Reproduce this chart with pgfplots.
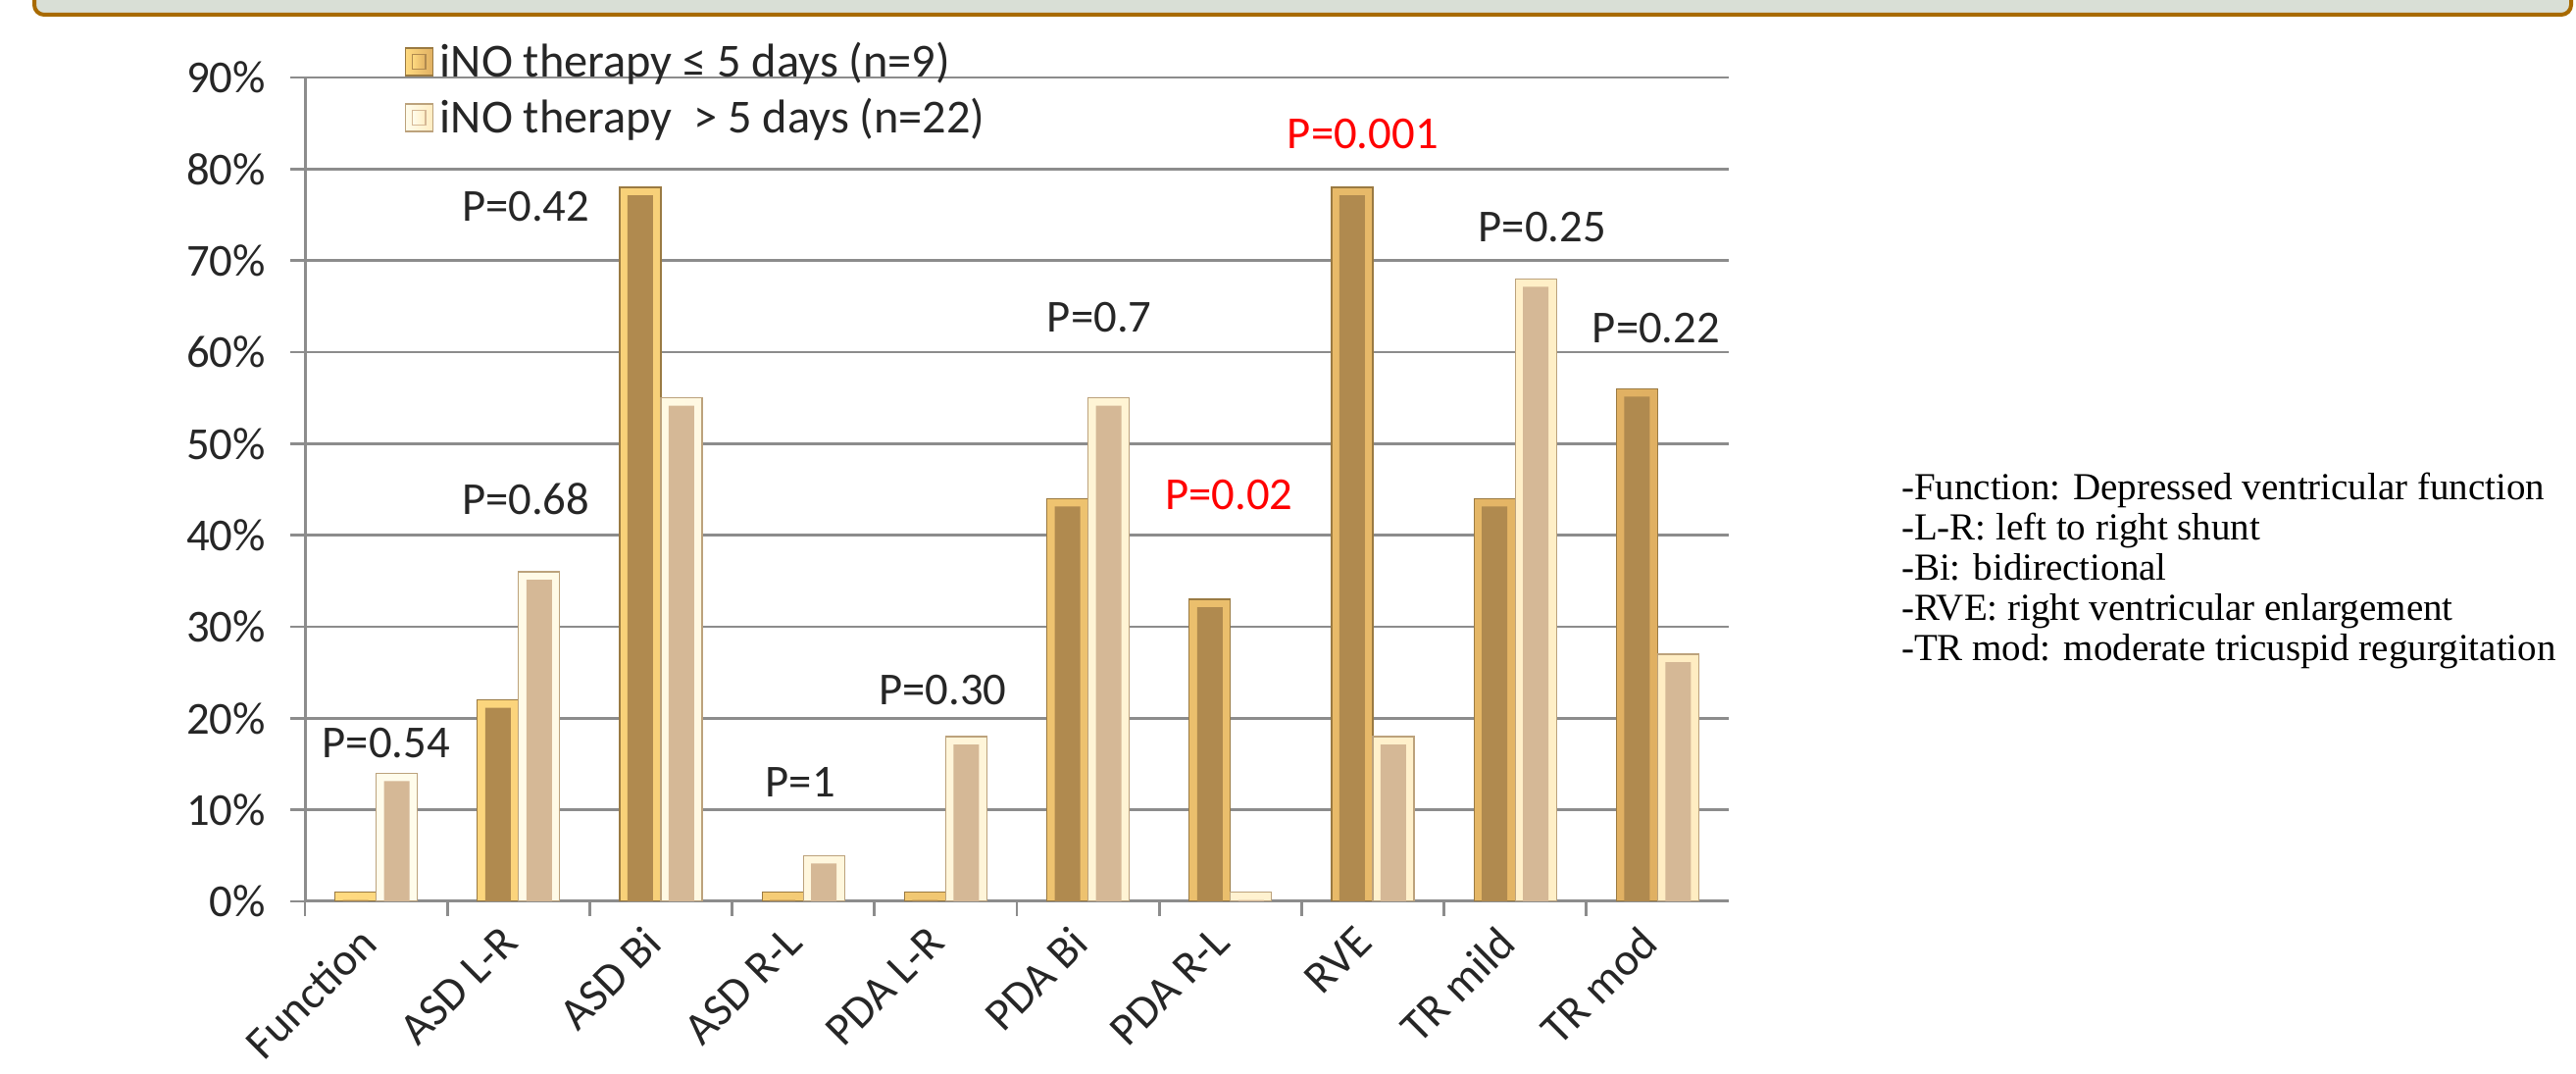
\documentclass[border=0pt]{standalone}
\usepackage{fontspec}
\setmainfont{Carlito}
\newfontfamily\timesfont{Liberation Serif}
\usepackage{pgfplots}
\usepackage{pgfplotstable}
\pgfplotsset{compat=1.18}
\definecolor{txt}{HTML}{262626}
\definecolor{gridc}{HTML}{8C8C8C}
\definecolor{dOutL}{HTML}{FFDA80}
\definecolor{dOutR}{HTML}{E0B062}
\definecolor{dIn}{HTML}{B08A4F}
\definecolor{dEdge}{HTML}{9A7A42}
\definecolor{lOutL}{HTML}{FFFCEC}
\definecolor{lOutR}{HTML}{FFEDC2}
\definecolor{lIn}{HTML}{D5B896}
\definecolor{lEdge}{HTML}{BCA27C}
\definecolor{bannerfill}{HTML}{D9DFD6}
\definecolor{bannerdraw}{HTML}{A86A00}

\pgfplotstableread{
x short long
0 1 14
1 22 36
2 78 55
3 1 5
4 1 18
5 44 55
6 33 1
7 78 18
8 44 68
9 56 27
}\outer

\pgfplotstableread{
x short long
0 0.14 13.14
1 21.14 35.14
2 77.14 54.14
3 0.14 4.14
4 0.14 17.14
5 43.14 54.14
6 32.14 0.14
7 77.14 17.14
8 43.14 67.14
9 55.14 26.14
}\inner

\begin{document}
\begin{tikzpicture}
\path[use as bounding box] (0,0) rectangle (788.1pt,328.5pt);
\begin{scope}
\clip (0,0) rectangle (788.1pt,328.5pt);
\draw[bannerdraw, line width=1.2pt, fill=bannerfill, rounded corners=3pt] (10.5pt,324pt) rectangle (786.6pt,340pt);
\end{scope}
\begin{axis}[
  at={(93.3pt,52.8pt)}, anchor=south west,
  scale only axis, width=435.6pt, height=252pt,
  xmin=-0.5, xmax=9.5, ymin=0, ymax=90,
  axis lines*=left,
  axis line style={gridc, line width=0.9pt},
  ymajorgrids, grid style={gridc, line width=0.8pt},
  ytick={0,10,...,90},
  yticklabels={0\%,10\%,20\%,30\%,40\%,50\%,60\%,70\%,80\%,90\%},
  xtick={-0.5,0.5,...,8.5}, xticklabels={},
  extra x ticks={0,1,...,9},
  extra x tick labels={Function,ASD L-R,ASD Bi,ASD R-L,PDA L-R,PDA Bi,PDA R-L,RVE,TR mild,TR mod},
  extra x tick style={major tick length=0pt},
  tick align=outside,
  major tick length=4.5pt,
  tick style={gridc, line width=0.8pt},
  ticklabel style={font=\fontsize{14}{16}\selectfont, text=txt},
  yticklabel style={xshift=-4pt},
  xticklabel style={xshift=-6pt, yshift=-2pt, rotate=45, anchor=north east},
  ybar=0pt,
  legend style={draw=none, fill=none, at={(0.0696,0.985)}, anchor=west,
    font=\fontsize{14.5}{16.5}\selectfont, text=txt, inner sep=0pt, row sep=1pt},
  legend cell align=left,
]
\addplot[bar width=12.6pt, bar shift=-6.3pt, draw=dEdge, line width=0.4pt,
  left color=dOutL, right color=dOutR,
  legend image code/.code={\draw[dEdge, line width=0.4pt, left color=dOutL, right color=dOutR] (0pt,-4.2pt) rectangle (8.4pt,4.2pt);
    \fill[dIn] (2.2pt,-2.2pt) rectangle (6.2pt,2.2pt);}]
  table[x=x, y=short] {\outer};
\addlegendentry{iNO therapy ≤ 5 days (n=9)}
\addplot[bar width=12.6pt, bar shift=6.3pt, draw=lEdge, line width=0.4pt,
  left color=lOutL, right color=lOutR,
  legend image code/.code={\draw[lEdge, line width=0.4pt, left color=lOutL, right color=lOutR] (0pt,-4.2pt) rectangle (8.4pt,4.2pt);
    \fill[lIn] (2.2pt,-2.2pt) rectangle (6.2pt,2.2pt);}]
  table[x=x, y=long] {\outer};
\addlegendentry{iNO therapy \ > 5 days (n=22)}
\addplot[forget plot, bar width=7.8pt, bar shift=-6.3pt, draw=none, fill=dIn]
  table[x=x, y=short] {\inner};
\addplot[forget plot, bar width=7.8pt, bar shift=6.3pt, draw=none, fill=lIn]
  table[x=x, y=long] {\inner};
\begin{scope}[every node/.style={font=\fontsize{14}{16}\selectfont, text=txt}]
\node at (axis cs:0.07,17.3) {P=0.54};
\node at (axis cs:1.05,44.0) {P=0.68};
\node at (axis cs:1.05,75.9) {P=0.42};
\node at (axis cs:2.98,13.0) {P=1};
\node at (axis cs:3.98,23.1) {P=0.30};
\node at (axis cs:5.08,63.8) {P=0.7};
\node[text=red] at (axis cs:5.99,44.4) {P=0.02};
\node[text=red] at (axis cs:6.93,83.8) {P=0.001};
\node at (axis cs:8.19,73.7) {P=0.25};
\node at (axis cs:8.99,62.6) {P=0.22};
\end{scope}
\end{axis}
\begin{scope}[every node/.style={anchor=base west, inner sep=0pt, font=\timesfont\fontsize{11.7}{13}\selectfont, text=black}]
\node at (581.5pt,175.6pt) {-Function: Depressed ventricular function};
\node at (581.5pt,163.3pt) {-L-R: left to right shunt};
\node at (581.5pt,151.0pt) {-Bi: bidirectional};
\node at (581.5pt,138.7pt) {-RVE: right ventricular enlargement};
\node at (581.5pt,126.4pt) {-TR mod: moderate tricuspid regurgitation};
\end{scope}
\end{tikzpicture}
\end{document}
